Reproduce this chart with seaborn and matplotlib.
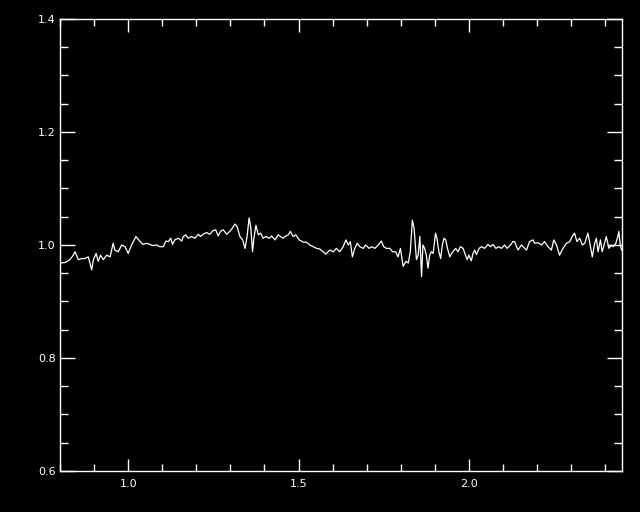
import numpy as np
import matplotlib
matplotlib.use('Agg')
import matplotlib.pyplot as plt
from matplotlib.ticker import MultipleLocator, FormatStrFormatter
import seaborn as sns

# 读取自图像的光谱数据（波长, 归一化通量）
wave = [
    0.800, 0.815, 0.829, 0.839, 0.844, 0.854, 0.864, 0.873, 0.883, 0.893,
    0.898, 0.906, 0.912, 0.919, 0.927, 0.937, 0.947, 0.956, 0.961, 0.971,
    0.981, 0.991, 1.000, 1.010, 1.023, 1.035, 1.044, 1.054,
    1.064, 1.072, 1.083, 1.093, 1.103, 1.111, 1.118, 1.125, 1.130, 1.137,
    1.147, 1.157, 1.162, 1.169, 1.176, 1.186, 1.196, 1.206, 1.212, 1.220,
    1.230, 1.240, 1.248, 1.257, 1.264, 1.271, 1.279, 1.289, 1.298, 1.306,
    1.313, 1.320,
    1.328, 1.336, 1.343, 1.349, 1.355, 1.360, 1.365, 1.369, 1.375, 1.382,
    1.389, 1.396, 1.404, 1.414, 1.421, 1.431, 1.440, 1.447, 1.455, 1.460,
    1.470, 1.476, 1.484, 1.492, 1.502, 1.514, 1.523, 1.533, 1.543, 1.553,
    1.562, 1.572, 1.580, 1.587,
    1.592, 1.602, 1.611, 1.621, 1.631, 1.639, 1.646, 1.652, 1.658, 1.665,
    1.672, 1.680, 1.690, 1.697, 1.707, 1.714, 1.724, 1.734, 1.743, 1.750,
    1.758, 1.768, 1.776, 1.785, 1.792, 1.799, 1.807, 1.815, 1.822, 1.828,
    1.834, 1.839, 1.846, 1.851,
    1.856, 1.861, 1.865, 1.870, 1.875, 1.880, 1.885, 1.890, 1.895, 1.902,
    1.906, 1.912, 1.917, 1.922, 1.927, 1.932, 1.937, 1.944, 1.949, 1.953,
    1.961, 1.968, 1.975, 1.983, 1.988, 1.995, 2.000, 2.007, 2.012, 2.017,
    2.022, 2.030, 2.037, 2.046, 2.056, 2.063, 2.071, 2.079, 2.088, 2.095,
    2.105, 2.112, 2.122, 2.129,
    2.134, 2.144, 2.154, 2.169, 2.178, 2.188, 2.193, 2.203, 2.213, 2.222,
    2.232, 2.242, 2.249, 2.257, 2.266, 2.276, 2.286, 2.296, 2.303, 2.310,
    2.317, 2.325, 2.333, 2.340, 2.349, 2.354, 2.362, 2.369, 2.374, 2.379,
    2.386, 2.391, 2.398, 2.403, 2.411, 2.418, 2.423, 2.431, 2.437, 2.440,
    2.444, 2.448,
]
flux = [
    0.968, 0.969, 0.974, 0.982, 0.988, 0.974, 0.976, 0.976, 0.979, 0.956,
    0.974, 0.985, 0.971, 0.982, 0.974, 0.982, 0.979, 1.003, 0.991, 0.988,
    1.000, 0.997, 0.985, 1.000, 1.015, 1.006, 1.001, 1.003,
    1.001, 0.999, 1.000, 0.997, 0.997, 1.007, 1.006, 1.012, 1.001, 1.009,
    1.012, 1.007, 1.015, 1.018, 1.012, 1.015, 1.012, 1.019, 1.015, 1.019,
    1.022, 1.019, 1.025, 1.027, 1.016, 1.024, 1.027, 1.019, 1.024, 1.030,
    1.037, 1.032,
    1.015, 1.009, 0.994, 1.015, 1.048, 1.030, 0.988, 1.012, 1.035, 1.018,
    1.021, 1.012, 1.015, 1.012, 1.016, 1.009, 1.018, 1.015, 1.012, 1.015,
    1.018, 1.024, 1.015, 1.018, 1.009, 1.005, 1.005, 1.000, 0.997, 0.994,
    0.993, 0.988, 0.984, 0.988,
    0.991, 0.988, 0.994, 0.988, 0.997, 1.009, 1.000, 1.006, 0.979, 0.994,
    1.003, 0.997, 0.994, 1.000, 0.994, 0.997, 0.994, 1.000, 1.007, 0.997,
    0.994, 0.994, 0.988, 0.988, 0.979, 0.994, 0.962, 0.971, 0.968, 0.988,
    1.044, 1.030, 0.974, 0.982,
    1.015, 0.944, 1.000, 0.994, 0.982, 0.959, 0.982, 0.988, 0.985, 1.021,
    1.012, 0.988, 0.976, 1.000, 1.012, 1.009, 0.994, 0.979, 0.985, 0.988,
    0.994, 0.988, 0.997, 0.994, 0.985, 0.974, 0.982, 0.972, 0.985, 0.991,
    0.983, 0.994, 0.997, 0.994, 1.001, 0.997, 1.001, 0.994, 0.997, 0.994,
    1.000, 0.994, 1.000, 1.006,
    1.006, 0.991, 1.000, 0.991, 1.006, 1.009, 1.003, 1.004, 1.000, 1.006,
    0.997, 0.991, 1.009, 1.000, 0.982, 0.994, 1.003, 1.006, 1.015, 1.021,
    1.006, 1.012, 1.000, 1.003, 1.021, 1.006, 0.979, 1.003, 1.012, 0.988,
    1.009, 0.988, 1.003, 1.015, 0.994, 1.000, 0.997, 1.003, 1.015, 1.024,
    1.000, 0.991,
]

sns.set_theme(style='ticks')

fig = plt.figure(figsize=(6.4, 5.12), dpi=100, facecolor='black')
ax = fig.add_axes([0.09375, 0.0801, 0.878, 0.8828])
ax.set_facecolor('black')

sns.lineplot(x=wave, y=flux, color='white', linewidth=0.9, ax=ax)

ax.set_xlim(0.8, 2.449)
ax.set_ylim(0.6, 1.4)

# 刻度
ax.xaxis.set_major_locator(MultipleLocator(0.5))
ax.xaxis.set_minor_locator(MultipleLocator(0.1))
ax.yaxis.set_major_locator(MultipleLocator(0.2))
ax.yaxis.set_minor_locator(MultipleLocator(0.05))
ax.xaxis.set_major_formatter(FormatStrFormatter('%.1f'))
ax.yaxis.set_major_formatter(FormatStrFormatter('%.1f'))

ax.tick_params(which='both', direction='in', top=True, right=True,
               colors='white', labelcolor='white', labelsize=8, width=1)
ax.tick_params(axis='x', which='major', length=9, pad=6)
ax.tick_params(axis='x', which='minor', length=5)
ax.tick_params(axis='y', which='major', length=11, pad=3)
ax.tick_params(axis='y', which='minor', length=6)

for s in ax.spines.values():
    s.set_color('white')
    s.set_linewidth(1)
    s.set_visible(True)

ax.set_xlabel('')
ax.set_ylabel('')

fig.savefig('out.png', dpi=100, facecolor='black')
